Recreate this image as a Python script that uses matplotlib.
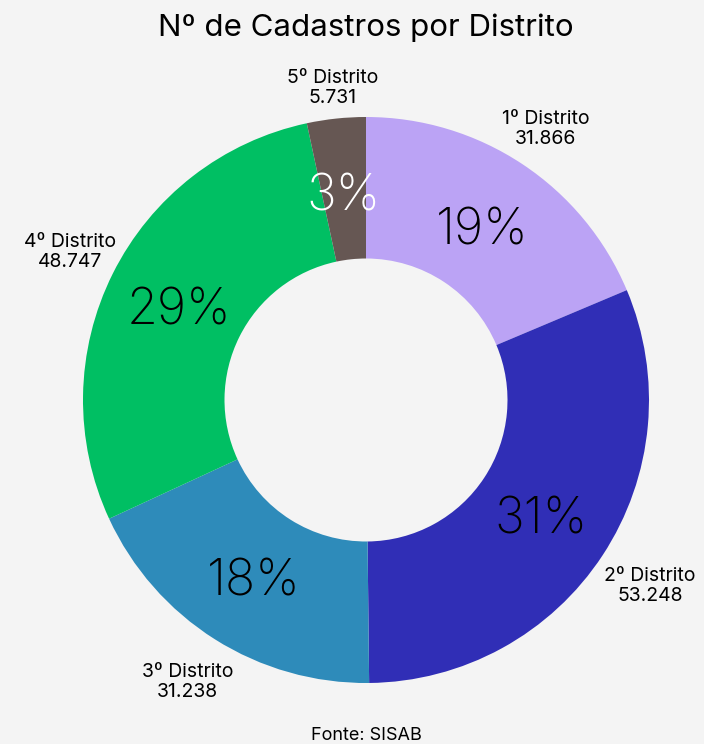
import matplotlib.pyplot as plt

plt.rcParams['font.family'] = ['Inter', 'DejaVu Sans']

distritos = ["1º Distrito", "2º Distrito", "3º Distrito", "4º Distrito", "5º Distrito"]
cadastros = [31866, 53248, 31238, 48747, 5731]
cores = ["#bba3f5", "#302eb6", "#2e8bba", "#00bf63", "#665753"]
cor_pct = ["black", "black", "black", "black", "white"]
dist_rotulo = [1.15, 1.20, 1.18, 1.17, 1.11]

bg = "#f4f4f4"
W, H = 704, 744
cx, cy, R = 366, 400, 283

fig = plt.figure(figsize=(W / 100, H / 100), dpi=100, facecolor=bg)
ax = fig.add_axes([(cx - R) / W, (H - cy - R) / H, 2 * R / W, 2 * R / H])
ax.set_facecolor(bg)

def fmt(v):
    return f"{v:,}".replace(",", ".")

labels = [f"{d}\n{fmt(v)}" for d, v in zip(distritos, cadastros)]

wedges, texts, pcts = ax.pie(
    cadastros, labels=labels, colors=cores, startangle=90, counterclock=False,
    autopct="%1.0f%%", pctdistance=0.74, labeldistance=1.0,
    wedgeprops=dict(width=0.5, linewidth=0),
    textprops=dict(fontsize=14),
)
for t, d in zip(texts, dist_rotulo):
    x, y = t.get_position()
    t.set_position((x * d, y * d))
    t.set_ha("center")
    t.set_va("center")
    t.set_linespacing(1.15)
for t, c in zip(pcts, cor_pct):
    t.set_color(c)
    t.set_fontsize(36)
    t.set_fontweight("light")
    t.set_va("center_baseline")

ax.set_xlim(-1, 1)
ax.set_ylim(-1, 1)
ax.axis("off")

fig.text(cx / W, 1 - 28 / H, "Nº de Cadastros por Distrito", ha="center", va="center", fontsize=22.5)
fig.text(cx / W, 1 - 735 / H, "Fonte: SISAB", ha="center", va="center", fontsize=13)

fig.savefig("out.png", dpi=100, facecolor=bg)
